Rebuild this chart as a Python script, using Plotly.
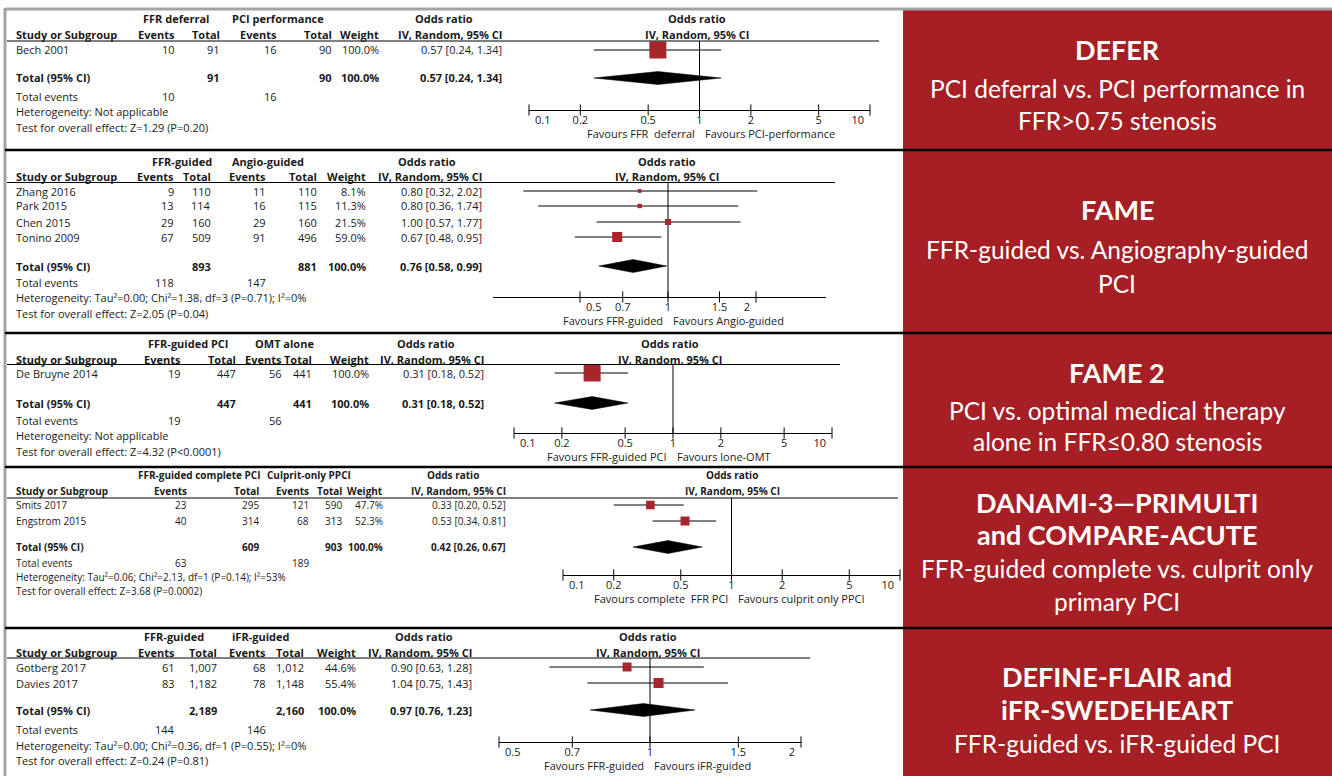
import math
import plotly.graph_objects as go

W, H = 1332, 776

# ---------------- DEFER: FFR deferral vs. PCI performance ----------------
defer_study = ["Bech 2001"]
defer_events_a = [10]
defer_total_a = [91]
defer_events_b = [16]
defer_total_b = [90]
defer_weight = [100.0]
defer_or = [0.57]
defer_lo = [0.24]
defer_hi = [1.34]
defer_pooled = [0.57, 0.24, 1.34]
defer_sum_n = [91, 90]
defer_sum_events = [10, 16]
defer_sum_weight = 100.0
defer_groups = ["FFR deferral", "PCI performance"]
defer_favours = ["Favours FFR  deferral", "Favours PCI-performance"]
defer_het = "Heterogeneity: Not applicable"
defer_test = "Test for overall effect: Z=1.29 (P=0.20)"
defer_ticks = [0.1, 0.2, 0.5, 1, 2, 5, 10]

# ---------------- FAME: FFR-guided vs. angio-guided ----------------
fame_study = ["Zhang 2016", "Park 2015", "Chen 2015", "Tonino 2009"]
fame_events_a = [9, 13, 29, 67]
fame_total_a = [110, 114, 160, 509]
fame_events_b = [11, 16, 29, 91]
fame_total_b = [110, 115, 160, 496]
fame_weight = [8.1, 11.3, 21.5, 59.0]
fame_or = [0.80, 0.80, 1.00, 0.67]
fame_lo = [0.32, 0.36, 0.57, 0.48]
fame_hi = [2.02, 1.74, 1.77, 0.95]
fame_pooled = [0.76, 0.58, 0.99]
fame_sum_n = [893, 881]
fame_sum_events = [118, 147]
fame_sum_weight = 100.0
fame_groups = ["FFR-guided", "Angio-guided"]
fame_favours = ["Favours FFR-guided", "Favours Angio-guided"]
fame_het = "Heterogeneity: Tau²=0.00; Chi²=1.38, df=3 (P=0.71); I²=0%"
fame_test = "Test for overall effect: Z=2.05 (P=0.04)"
fame_ticks = [0.5, 0.7, 1, 1.5, 2]

# ---------------- FAME 2: FFR-guided PCI vs. OMT ----------------
fame2_study = ["De Bruyne 2014"]
fame2_events_a = [19]
fame2_total_a = [447]
fame2_events_b = [56]
fame2_total_b = [441]
fame2_weight = [100.0]
fame2_or = [0.31]
fame2_lo = [0.18]
fame2_hi = [0.52]
fame2_pooled = [0.31, 0.18, 0.52]
fame2_sum_n = [447, 441]
fame2_sum_events = [19, 56]
fame2_sum_weight = 100.0
fame2_groups = ["FFR-guided PCI", "OMT alone"]
fame2_favours = ["Favours FFR-guided PCI", "Favours lone-OMT"]
fame2_het = "Heterogeneity: Not applicable"
fame2_test = "Test for overall effect: Z=4.32 (P<0.0001)"
fame2_ticks = [0.1, 0.2, 0.5, 1, 2, 5, 10]

# ---------------- DANAMI-3-PRIMULTI / COMPARE-ACUTE ----------------
danami_study = ["Smits 2017", "Engstrom 2015"]
danami_events_a = [23, 40]
danami_total_a = [295, 314]
danami_events_b = [121, 68]
danami_total_b = [590, 313]
danami_weight = [47.7, 52.3]
danami_or = [0.33, 0.53]
danami_lo = [0.20, 0.34]
danami_hi = [0.52, 0.81]
danami_pooled = [0.42, 0.26, 0.67]
danami_sum_n = [609, 903]
danami_sum_events = [63, 189]
danami_sum_weight = 100.0
danami_groups = ["FFR-guided complete PCI", "Culprit-only PPCI"]
danami_favours = ["Favours complete  FFR PCI", "Favours culprit only PPCI"]
danami_het = "Heterogeneity: Tau²=0.06; Chi²=2.13, df=1 (P=0.14); I²=53%"
danami_test = "Test for overall effect: Z=3.68 (P=0.0002)"
danami_ticks = [0.1, 0.2, 0.5, 1, 2, 5, 10]

# ---------------- DEFINE-FLAIR / iFR-SWEDEHEART ----------------
define_study = ["Gotberg 2017", "Davies 2017"]
define_events_a = [61, 83]
define_total_a = [1007, 1182]
define_events_b = [68, 78]
define_total_b = [1012, 1148]
define_weight = [44.6, 55.4]
define_or = [0.90, 1.04]
define_lo = [0.63, 0.75]
define_hi = [1.28, 1.43]
define_pooled = [0.97, 0.76, 1.23]
define_sum_n = [2189, 2160]
define_sum_events = [144, 146]
define_sum_weight = 100.0
define_groups = ["FFR-guided", "iFR-guided"]
define_favours = ["Favours FFR-guided", "Favours iFR-guided"]
define_het = "Heterogeneity: Tau²=0.00; Chi²=0.36, df=1 (P=0.55); I²=0%"
define_test = "Test for overall effect: Z=0.24 (P=0.81)"
define_ticks = [0.5, 0.7, 1, 1.5, 2]

# ---------------- side captions ----------------
caption_titles = [
    ["DEFER"],
    ["FAME"],
    ["FAME 2"],
    ["DANAMI-3—PRIMULTI", "and COMPARE-ACUTE"],
    ["DEFINE-FLAIR and", "iFR-SWEDEHEART"],
]
caption_subtitles = [
    ["PCI deferral vs. PCI performance in", "FFR>0.75 stenosis"],
    ["FFR-guided vs. Angiography-guided", "PCI"],
    ["PCI vs. optimal medical therapy", "alone in FFR≤0.80 stenosis"],
    ["FFR-guided complete vs. culprit only", "primary PCI"],
    ["FFR-guided vs. iFR-guided PCI"],
]


def bundle(prefix):
    g = globals()
    keys = dict(study="study", ea="events_a", na="total_a", eb="events_b", nb="total_b",
                w="weight", est="or", lo="lo", hi="hi", pooled="pooled", sum_n="sum_n",
                sum_ev="sum_events", sum_w="sum_weight", groups="groups", fav="favours",
                het="het", test="test", ticks="ticks")
    return {k: g[f"{prefix}_{v}"] for k, v in keys.items()}


panels = [bundle(p) for p in ["defer", "fame", "fame2", "danami", "define"]]

# ---------------- page geometry (pixels) ----------------
C = "center"
layout_geo = [
    dict(h1=18, h2=35, line=41, rows=[50], total=78, tev=96, het=112, test=128,
         cols=[176, 221, 278, 333, 380, 503], grp=[(176, C), (278, C), (444, C)], fs=11,
         ax=(529, 870), rng=(0.1, 10), line_end=879, ax_y=110, fav_y=133, hdr_x=697,
         split=700, smax=17),
    dict(h1=161, h2=177, line=182.5, rows=[191, 206, 222, 237], total=266, tev=282, het=297, test=313,
         cols=[175, 212, 267, 318, 367, 483], grp=[(182, C), (268, C), (427, C)], fs=11,
         ax=(493, 826), rng=(0.252, 3.47), line_end=835, ax_y=297, fav_y=320, hdr_x=667,
         split=668, smax=10),
    dict(h1=343, h2=359, line=364.5, rows=[373], total=403, tev=420, het=435, test=451,
         cols=[182, 237, 283, 313, 370, 485], grp=[(188, C), (284, C), (426, C)], fs=11,
         ax=(514, 832), rng=(0.1, 10), line_end=840, ax_y=433, fav_y=456, hdr_x=670,
         split=672, smax=17),
    dict(h1=475, h2=491, line=498, rows=[505, 521], total=547, tev=563, het=577, test=591,
         cols=[188, 260, 310, 343, 384, 507], grp=[(261, "right"), (266, "left"), (453, C)], fs=10,
         ax=(563, 900), rng=(0.1, 10), line_end=898, ax_y=575, fav_y=598, hdr_x=732,
         split=733, smax=9),
    dict(h1=636, h2=652, line=658, rows=[667, 683], total=710, tev=729, het=745, test=760,
         cols=[176, 218, 267, 305, 357, 473], grp=[(174, C), (260, C), (424, C)], fs=11,
         ax=(499, 801), rng=(0.5, 2), line_end=810, ax_y=742, fav_y=765, hdr_x=648,
         split=649, smax=10),
]
caption_geo = [
    dict(t=[50], s=[88, 120]),
    dict(t=[210], s=[250, 283]),
    dict(t=[372], s=[410, 441]),
    dict(t=[502, 534], s=[568, 601]),
    dict(t=[676, 709], s=[743]),
]

RED = "#A51F24"
SQUARE = "#A8252B"
TXT = "#1a1a1a"
TABLE_FONT = "Open Sans"
CAPTION_FONT = "Lato"
FS = 11

fig = go.Figure()
shapes = []
annotations = []


def px(x):
    return x / W


def py(y):
    return 1 - y / H


def text(x, y, s, anchor="left", size=FS, bold=False, color=TXT, family=TABLE_FONT):
    annotations.append(dict(
        x=px(x), y=py(y), xref="paper", yref="paper",
        text=f"<b>{s}</b>" if bold else s, showarrow=False,
        xanchor=anchor, yanchor="middle", borderpad=0,
        font=dict(family=family, size=size, color=color)))


def hline(x0, x1, y, color, width, layer="above"):
    shapes.append(dict(type="line", xref="paper", yref="paper", layer=layer,
                       x0=px(x0), x1=px(x1), y0=py(y), y1=py(y),
                       line=dict(color=color, width=width)))


def vline(x, y0, y1, color, width, layer="above"):
    shapes.append(dict(type="line", xref="paper", yref="paper", layer=layer,
                       x0=px(x), x1=px(x), y0=py(y0), y1=py(y1),
                       line=dict(color=color, width=width)))


def fmt_n(v):
    return f"{v:,}"


# red caption column
shapes.append(dict(type="rect", xref="paper", yref="paper", layer="below",
                   x0=px(903), x1=px(W), y0=py(10), y1=py(H),
                   fillcolor=RED, line=dict(width=0)))

axes_layout = {}
for i, (P, G) in enumerate(zip(panels, layout_geo), start=1):
    suffix = "" if i == 1 else str(i)
    xa, ya = "x" + suffix, "y" + suffix
    fs = G["fs"]

    # ---- table header ----
    for (gx, ganc), lab in zip(G["grp"], P["groups"] + ["Odds ratio"]):
        text(gx, G["h1"], lab, ganc, size=fs, bold=True)
    text(15, G["h2"], "Study or Subgroup", "left", size=fs, bold=True)
    for c, lab in zip(G["cols"], ["Events", "Total", "Events", "Total", "Weight", "IV, Random, 95% CI"]):
        text(c, G["h2"], lab, "right", size=fs, bold=True)
    text(G["hdr_x"], G["h1"], "Odds ratio", "center", size=fs, bold=True)
    text(G["hdr_x"], G["h2"], "IV, Random, 95% CI", "center", size=fs, bold=True)
    hline(7, G["line_end"], G["line"], "black", 1)

    # ---- study rows ----
    for k, name in enumerate(P["study"]):
        y = G["rows"][k]
        text(15, y, name, "left", size=fs)
        vals = [str(P["ea"][k]), fmt_n(P["na"][k]), str(P["eb"][k]), fmt_n(P["nb"][k]),
                f"{P['w'][k]:.1f}%",
                f"{P['est'][k]:.2f} [{P['lo'][k]:.2f}, {P['hi'][k]:.2f}]"]
        for c, v in zip(G["cols"], vals):
            text(c, y, v, "right", size=fs)

    # ---- pooled row and footer ----
    est, lo, hi = P["pooled"]
    text(15, G["total"], "Total (95% CI)", "left", size=fs, bold=True)
    text(G["cols"][1], G["total"], fmt_n(P["sum_n"][0]), "right", size=fs, bold=True)
    text(G["cols"][3], G["total"], fmt_n(P["sum_n"][1]), "right", size=fs, bold=True)
    text(G["cols"][4], G["total"], f"{P['sum_w']:.1f}%", "right", size=fs, bold=True)
    text(G["cols"][5], G["total"], f"{est:.2f} [{lo:.2f}, {hi:.2f}]", "right", size=fs, bold=True)
    text(15, G["tev"], "Total events", "left", size=fs)
    text(G["cols"][0], G["tev"], str(P["sum_ev"][0]), "right", size=fs)
    text(G["cols"][2], G["tev"], str(P["sum_ev"][1]), "right", size=fs)
    text(15, G["het"], P["het"], "left", size=fs)
    text(15, G["test"], P["test"], "left", size=fs)

    # ---- favours labels ----
    text(G["split"] - 4, G["fav_y"], P["fav"][0], "right")
    text(G["split"] + 4, G["fav_y"], P["fav"][1], "left")

    # ---- forest plot axes ----
    axes_layout["xaxis" + suffix] = dict(
        type="log", range=[math.log10(G["rng"][0]), math.log10(G["rng"][1])],
        domain=[px(G["ax"][0]), px(G["ax"][1])], anchor=ya,
        showline=True, linecolor="black", linewidth=1, mirror=False,
        showticklabels=False, ticks="",
        showgrid=False, zeroline=False, fixedrange=True)
    axes_layout["yaxis" + suffix] = dict(
        range=[G["ax_y"], G["line"]], domain=[py(G["ax_y"]), py(G["line"])],
        anchor=xa, visible=False, fixedrange=True)

    # line of no effect
    fig.add_trace(go.Scatter(x=[1, 1], y=[G["line"], G["ax_y"]], mode="lines",
                             line=dict(color="black", width=1), xaxis=xa, yaxis=ya,
                             hoverinfo="skip", showlegend=False, cliponaxis=False))
    # tick marks crossing the axis line, with labels kept inside the axis span
    nt = len(P["ticks"])
    tpos = ["bottom right"] + ["bottom center"] * (nt - 2) + ["bottom left"]
    fig.add_trace(go.Scatter(x=P["ticks"], y=[G["ax_y"]] * nt, mode="markers+text",
                             text=[f"{t:g}" for t in P["ticks"]], textposition=tpos,
                             textfont=dict(family=TABLE_FONT, size=FS, color=TXT),
                             marker=dict(symbol="line-ns-open", size=8, color="black", opacity=1,
                                         line=dict(color="black", width=1)),
                             xaxis=xa, yaxis=ya, hoverinfo="skip", showlegend=False,
                             cliponaxis=False))
    # confidence intervals
    cx, cy = [], []
    for k in range(len(P["study"])):
        cx += [P["lo"][k], P["hi"][k], None]
        cy += [G["rows"][k], G["rows"][k], None]
    fig.add_trace(go.Scatter(x=cx, y=cy, mode="lines", line=dict(color="black", width=1),
                             xaxis=xa, yaxis=ya, hoverinfo="skip", showlegend=False,
                             cliponaxis=False))
    # study squares, area proportional to weight
    wmax = max(P["w"])
    sizes = [G["smax"] * math.sqrt(w / wmax) for w in P["w"]]
    fig.add_trace(go.Scatter(x=P["est"], y=G["rows"][:len(P["study"])], mode="markers",
                             marker=dict(symbol="square", size=sizes, color=SQUARE, opacity=1,
                                         line=dict(width=0)),
                             xaxis=xa, yaxis=ya, showlegend=False, cliponaxis=False))
    # pooled diamond
    yt = G["total"]
    fig.add_trace(go.Scatter(x=[lo, est, hi, est, lo], y=[yt, yt - 6.5, yt, yt + 6.5, yt],
                             mode="lines", fill="toself", fillcolor="black",
                             line=dict(color="black", width=0.5),
                             xaxis=xa, yaxis=ya, hoverinfo="skip", showlegend=False,
                             cliponaxis=False))

# frame and panel separators
hline(5, W, 9, "#a3a3a3", 3)
vline(5, 8, H, "#a3a3a3", 3)
for y in [150, 333, 467, 628]:
    hline(5, W, y, "black", 2.5)

# caption texts
for titles, subs, g in zip(caption_titles, caption_subtitles, caption_geo):
    for t, y in zip(titles, g["t"]):
        text(1117, y, t, "center", size=27, bold=True, color="white", family=CAPTION_FONT)
    for s, y in zip(subs, g["s"]):
        text(1117, y, s, "center", size=24.5, color="white", family=CAPTION_FONT)

fig.update_layout(
    width=W, height=H, margin=dict(l=0, r=0, t=0, b=0),
    paper_bgcolor="white", plot_bgcolor="rgba(0,0,0,0)",
    showlegend=False, shapes=shapes, annotations=annotations,
    **axes_layout)

fig.write_html("out.html")
